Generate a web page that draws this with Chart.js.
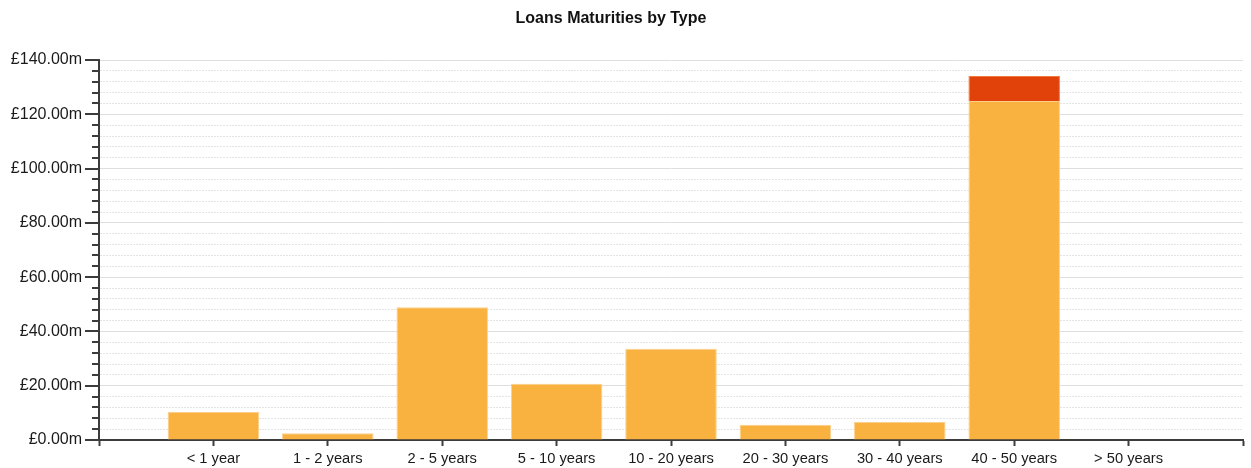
<!DOCTYPE html>
<html>
<head>
<meta charset="utf-8">
<title>Loans Maturities by Type</title>
<script src="https://cdn.jsdelivr.net/npm/chart.js@4.4.1/dist/chart.umd.min.js"></script>
<style>
    html, body { margin: 0; padding: 0; background: #fff; }
    #wrap { position: relative; width: 1251px; height: 468px; }
</style>
</head>
<body>
<div id="wrap"><canvas id="loansChart"></canvas></div>
<script>
// maturity bands (x axis)
const categories = ['< 1 year', '1 - 2 years', '2 - 5 years', '5 - 10 years', '10 - 20 years',
    '20 - 30 years', '30 - 40 years', '40 - 50 years', '> 50 years'];

// values in £m
const typeOneValues = [10.3, 2.5, 48.9, 20.7, 33.6, 5.6, 6.6, 124.9, 0];
const typeTwoValues = [0, 0, 0, 0, 0, 0, 0, 9.2, 0];

// y axis: labelled every 20, minor tick every 4
const yMax = 140;
const yStep = 4;
const yLabelStep = 20;

const chartTitle = 'Loans Maturities by Type';

const FONT = '"Liberation Sans", Arial, sans-serif';
const AXIS_COLOR = '#3c3c3c';

// the band scale has an empty slot at both ends
const labels = [''].concat(categories, ['']);
const pad = arr => [null].concat(arr, [null]);

const isMajor = v => v % yLabelStep === 0;

// tick marks on the y axis: long at labelled values, short in between
const yTickMarks = {
    id: 'yTickMarks',
    afterDraw(chart) {
        const ctx = chart.ctx;
        const y = chart.scales.y;
        const left = chart.chartArea.left;
        ctx.save();
        ctx.strokeStyle = AXIS_COLOR;
        ctx.lineWidth = 2;
        y.ticks.forEach(t => {
            const py = Math.round(y.getPixelForValue(t.value));
            const len = isMajor(t.value) ? 14 : 7;
            ctx.beginPath();
            ctx.moveTo(left - len, py);
            ctx.lineTo(left, py);
            ctx.stroke();
        });
        ctx.restore();
    }
};

const titleText = {
    id: 'titleText',
    afterDraw(chart) {
        const ctx = chart.ctx;
        ctx.save();
        ctx.font = 'bold 16px ' + FONT;
        ctx.fillStyle = '#111';
        ctx.textAlign = 'center';
        ctx.textBaseline = 'middle';
        ctx.fillText(chartTitle, 611, 19);
        ctx.restore();
    }
};

const ctx = document.getElementById('loansChart').getContext('2d');
new Chart(ctx, {
    type: 'bar',
    data: {
        labels: labels,
        datasets: [
            {
                label: 'Type 1',
                data: pad(typeOneValues),
                backgroundColor: '#f9b13f',
                borderColor: '#fcd08c',
                borderWidth: 1
            },
            {
                label: 'Type 2',
                data: pad(typeTwoValues),
                backgroundColor: '#e0420a',
                borderColor: '#f07a3c',
                borderWidth: 1
            }
        ]
    },
    options: {
        responsive: true,
        maintainAspectRatio: false,
        animation: false,
        layout: {
            padding: { top: 60, right: 8, bottom: 0, left: 0 }
        },
        datasets: {
            bar: {
                barPercentage: 0.8,
                categoryPercentage: 1
            }
        },
        scales: {
            x: {
                stacked: true,
                offset: false,
                afterFit: scale => { scale.height = 28; },
                grid: {
                    offset: false,
                    drawOnChartArea: false,
                    drawTicks: true,
                    tickLength: 6,
                    tickWidth: 2,
                    tickColor: AXIS_COLOR
                },
                border: { color: AXIS_COLOR, width: 2 },
                ticks: {
                    autoSkip: false,
                    maxRotation: 0,
                    padding: 4,
                    color: '#1a1a1a',
                    font: { family: FONT, size: 14.7 }
                }
            },
            y: {
                stacked: true,
                min: 0,
                max: yMax,
                afterFit: scale => { scale.width = 99; },
                grid: {
                    drawTicks: false,
                    color: c => (isMajor(c.tick.value) ? '#dedede' : '#e4e4e4'),
                    lineWidth: 1
                },
                border: {
                    color: AXIS_COLOR,
                    width: 2,
                    dash: c => (c.tick && !isMajor(c.tick.value) ? [2, 1] : [])
                },
                ticks: {
                    stepSize: yStep,
                    autoSkip: false,
                    padding: 17,
                    color: '#1a1a1a',
                    font: { family: FONT, size: 16 },
                    callback: v => (isMajor(v) ? '£' + v.toFixed(2) + 'm' : '')
                }
            }
        },
        plugins: {
            legend: { display: false },
            title: { display: false },
            tooltip: { enabled: false }
        }
    },
    plugins: [yTickMarks, titleText]
});
</script>
</body>
</html>
